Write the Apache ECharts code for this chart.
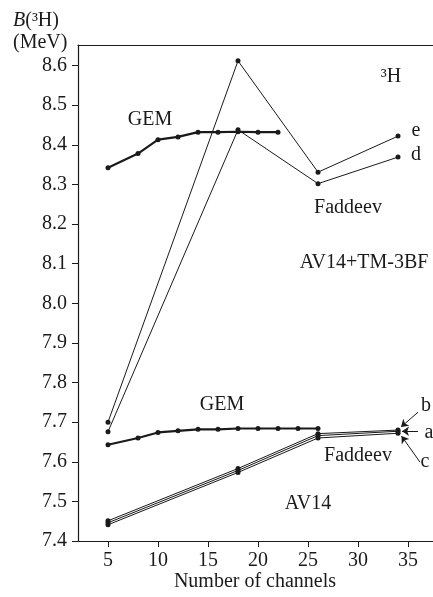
<!DOCTYPE html>
<html>
<head>
<meta charset="utf-8">
<script src="https://cdn.jsdelivr.net/npm/echarts@6/dist/echarts.min.js"></script>
<style>
  html, body { margin: 0; padding: 0; background: #fff; }
  #chart { width: 433px; height: 597px; }
</style>
</head>
<body>
<div id="chart"></div>
<script>
// Binding energy of 3H versus number of channels (GEM vs Faddeev)
const xTicks = [5, 10, 15, 20, 25, 30, 35];
const yTicks = [7.4, 7.5, 7.6, 7.7, 7.8, 7.9, 8.0, 8.1, 8.2, 8.3, 8.4, 8.5, 8.6];

// AV14+TM-3BF
const gemUpperX = [5, 8, 10, 12, 14, 16, 18, 20, 22];
const gemUpperY = [8.342, 8.378, 8.413, 8.420, 8.432, 8.432, 8.433, 8.432, 8.432];
const faddeevX = [5, 18, 26, 34];
const faddeevE = [7.700, 8.612, 8.331, 8.422];
const faddeevD = [7.676, 8.438, 8.302, 8.369];

// AV14
const gemLowerX = [5, 8, 10, 12, 14, 16, 18, 20, 22, 24, 26];
const gemLowerY = [7.643, 7.660, 7.674, 7.678, 7.682, 7.682, 7.684, 7.684, 7.684, 7.684, 7.684];
const faddeevB = [7.451, 7.583, 7.671, 7.680];
const faddeevA = [7.446, 7.578, 7.666, 7.677];
const faddeevC = [7.441, 7.573, 7.660, 7.672];

// arrows from the a/b/c labels to the x=34 points
const arrowB = [[36.0, 7.725], [34.3, 7.688]];
const arrowA = [[36.0, 7.677], [34.4, 7.677]];
const arrowC = [[36.2, 7.599], [34.35, 7.665]];

const FONT = '"Liberation Serif", "Times New Roman", serif';
const INK = '#1a1a1a';

const pairs = (xs, ys) => xs.map((x, i) => [x, ys[i]]);

function gemSeries(xs, ys) {
  return {
    type: 'line', data: pairs(xs, ys),
    symbol: 'circle', symbolSize: 5,
    lineStyle: { color: INK, width: 2.2 },
    itemStyle: { color: INK },
    animation: false, z: 3
  };
}
function faddeevSeries(ys, extra) {
  return Object.assign({
    type: 'line', data: pairs(faddeevX, ys),
    symbol: 'circle', symbolSize: 5,
    lineStyle: { color: INK, width: 1 },
    itemStyle: { color: INK },
    animation: false, z: 2
  }, extra || {});
}
function arrowLine(seg) {
  return {
    silent: true, symbol: ['none', 'arrow'], symbolSize: 7,
    label: { show: false },
    itemStyle: { color: INK },
    lineStyle: { color: INK, width: 1, type: 'solid' },
    emphasis: { disabled: true },
    data: [[{ coord: seg[0] }, { coord: seg[1] }]],
    animation: false
  };
}

const chart = echarts.init(document.getElementById('chart'), null, { renderer: 'canvas' });

function txt(text, x, y, opts) {
  return {
    type: 'text', x: x, y: y, silent: true,
    style: Object.assign({
      text: text, font: '20px ' + FONT, fill: INK,
      align: 'center', verticalAlign: 'middle'
    }, opts || {})
  };
}

chart.setOption({
  backgroundColor: '#fff',
  animation: false,
  grid: { left: 78, top: 45, width: 355, height: 496 },
  xAxis: [{
    type: 'value', min: 2, max: 37.5,
    axisLine: { lineStyle: { color: INK, width: 1.2 } },
    axisTick: { show: true, length: 6, customValues: xTicks, lineStyle: { color: INK } },
    axisLabel: { customValues: xTicks, margin: 10, color: INK, fontFamily: FONT, fontSize: 20 },
    splitLine: { show: false }
  }, {
    type: 'value', min: 2, max: 37.5, position: 'top',
    axisLine: { show: true, onZero: false, lineStyle: { color: INK, width: 1.2 } },
    axisTick: { show: false }, axisLabel: { show: false }, splitLine: { show: false }
  }],
  yAxis: {
    type: 'value', min: 7.4, max: 8.652,
    axisLine: { show: true, lineStyle: { color: INK, width: 1.2 } },
    axisTick: { show: true, length: 6, customValues: yTicks, lineStyle: { color: INK } },
    axisLabel: {
      customValues: yTicks, margin: 11, color: INK, fontFamily: FONT, fontSize: 20,
      formatter: v => v.toFixed(1)
    },
    splitLine: { show: false }
  },
  series: [
    gemSeries(gemUpperX, gemUpperY),
    faddeevSeries(faddeevE),
    faddeevSeries(faddeevD),
    gemSeries(gemLowerX, gemLowerY),
    faddeevSeries(faddeevB, { markLine: arrowLine(arrowB) }),
    faddeevSeries(faddeevA, { markLine: arrowLine(arrowA) }),
    faddeevSeries(faddeevC, { markLine: arrowLine(arrowC) })
  ],
  graphic: [
    {
      type: 'text', x: 13, y: 21, silent: true,
      style: {
        text: '{i|B}(³H)', font: '20px ' + FONT, fill: INK,
        align: 'left', verticalAlign: 'middle',
        rich: { i: { fontStyle: 'italic', fontFamily: FONT, fontSize: 20, fill: INK } }
      }
    },
    txt('(MeV)', 13, 43, { align: 'left' }),
    txt('³H', 391, 77),
    txt('GEM', 150, 120),
    txt('e', 416, 131),
    txt('d', 416, 155),
    txt('Faddeev', 348, 208),
    txt('AV14+TM-3BF', 364, 263),
    txt('GEM', 222, 405),
    txt('b', 426, 406),
    txt('a', 429, 433),
    txt('c', 425, 462),
    txt('Faddeev', 358, 456),
    txt('AV14', 308, 504),
    txt('Number of channels', 255, 582)
  ]
});
</script>
</body>
</html>
